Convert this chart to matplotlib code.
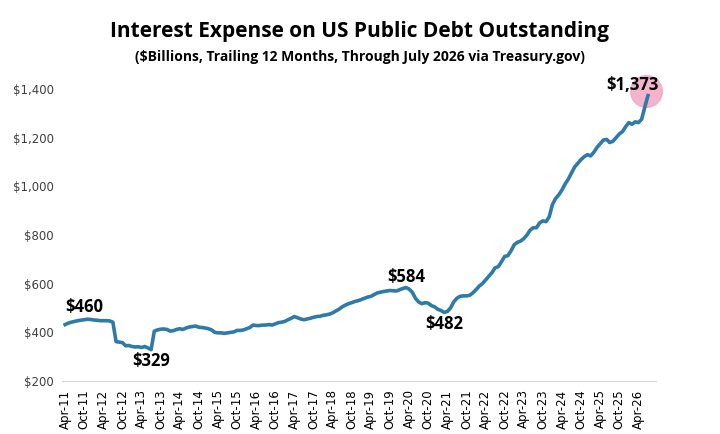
import numpy as np
import matplotlib.pyplot as plt

# ============================================================
# Data: trailing 12-month interest expense ($B), Apr-11 .. Jul-26
# ============================================================

interest = [
    432, 438, 442, 445, 448, 450, 452, 454, 453,                      # 2011
    451, 450, 448, 448, 448, 447, 442, 362, 360, 358, 345, 346,       # 2012
    342, 340, 341, 338, 342, 336, 329, 405, 410, 413, 414, 412,       # 2013
    405, 407, 412, 415, 412, 418, 422, 424, 426, 421, 420, 418,       # 2014
    415, 410, 400, 398, 398, 396, 398, 400, 402, 408, 408, 410,       # 2015
    415, 420, 430, 428, 428, 430, 430, 432, 430, 435, 440, 442,       # 2016
    445, 452, 458, 465, 460, 455, 452, 455, 458, 462, 465, 466,       # 2017
    470, 472, 475, 480, 488, 495, 505, 512, 518, 522, 527, 530,       # 2018
    535, 540, 545, 548, 555, 562, 565, 568, 570, 572, 571, 570,       # 2019
    575, 580, 584, 578, 565, 540, 525, 518, 522, 520, 510, 505,       # 2020
    495, 490, 482, 486, 500, 525, 540, 548, 550, 550, 552, 562,       # 2021
    575, 590, 600, 615, 630, 645, 665, 670, 690, 712, 715, 735,       # 2022
    760, 770, 775, 785, 800, 820, 830, 830, 850, 858, 855, 875,       # 2023
    925, 950, 965, 985, 1010, 1030, 1055, 1080, 1095, 1110, 1122, 1130,  # 2024
    1125, 1140, 1160, 1175, 1190, 1193, 1180, 1185, 1200, 1215, 1225, 1245,  # 2025
    1262, 1255, 1265, 1262, 1275, 1325, 1373,                         # 2026
]

months = np.arange(len(interest))

month_names = ['Apr', 'May', 'Jun', 'Jul', 'Aug', 'Sep',
               'Oct', 'Nov', 'Dec', 'Jan', 'Feb', 'Mar']
tick_pos = months[::6]
tick_labels = []
for m in tick_pos:
    year = 11 + (m + 3) // 12
    tick_labels.append(f"{month_names[m % 12]}-{year:02d}")

# ============================================================
# Plot
# ============================================================

plt.figure(figsize=(7.2, 4.34), dpi=100)
ax = plt.axes([0.086, 0.122, 0.825, 0.701])

plt.plot(months, interest, color='#2e7aa8', linewidth=2.6, zorder=3)

# highlight last point
plt.scatter(months[-1] - 0.5, interest[-1] + 20, s=520, color='#f4a6c6',
            alpha=0.85, zorder=1, clip_on=False)

label_font = dict(fontsize=12, fontweight='bold', family='Open Sans')
plt.text(6, 468, "$460", ha='center', va='bottom', **label_font)
plt.text(27, 318, "$329", ha='center', va='top', **label_font)
plt.text(107, 590, "$584", ha='center', va='bottom', **label_font)
plt.text(119, 472, "$482", ha='center', va='top', **label_font)
plt.text(months[-1] - 5, 1380, "$1,373", ha='center', va='bottom', zorder=4, **label_font)

plt.xlim(-1, len(interest) + 1.5)
plt.ylim(200, 1450)
plt.yticks(range(200, 1401, 200), [f"${v:,}" for v in range(200, 1401, 200)],
           fontsize=8.5, color='#404040')
plt.xticks(tick_pos, tick_labels, rotation=90, fontsize=8.5)

for side in ['top', 'right', 'left']:
    ax.spines[side].set_visible(False)
ax.spines['bottom'].set_color('#d9d9d9')
ax.tick_params(length=0, pad=6)

plt.figtext(0.5, 0.915, "Interest Expense on US Public Debt Outstanding",
            ha='center', fontsize=15, fontweight='bold', family='Open Sans')
plt.figtext(0.5, 0.86, "($Billions, Trailing 12 Months, Through July 2026 via Treasury.gov)",
            ha='center', fontsize=10, fontweight='bold', family='Open Sans')

plt.savefig("out.png", dpi=100)
